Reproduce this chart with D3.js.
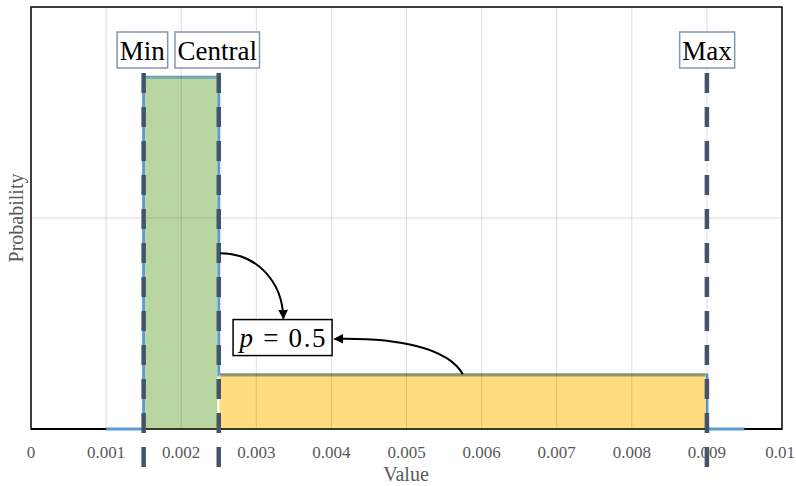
<!DOCTYPE html>
<html><head><meta charset="utf-8">
<script src="https://cdn.jsdelivr.net/npm/d3@7"></script>
<style>body{margin:0;background:#fff}svg{display:block}</style>
</head><body>
<svg id="c" width="796" height="486"></svg>
<script>
// ---- data ----
const xTicks = [0, 0.001, 0.002, 0.003, 0.004, 0.005, 0.006, 0.007, 0.008, 0.009, 0.01];
const xTickLabels = ["0", "0.001", "0.002", "0.003", "0.004", "0.005", "0.006", "0.007", "0.008", "0.009", "0.01"];
const yGrid = [300];
const pdfX = [0.001, 0.0015, 0.0015, 0.0025, 0.0025, 0.009, 0.009, 0.0095];
const pdfY = [0, 0, 500, 500, 76.9, 76.9, 0, 0];
const regionX0 = [0.0015, 0.0025];
const regionX1 = [0.0025, 0.009];
const regionH = [500, 76.9];
const regionColors = ["#b7d6a1", "#fedd80"];
const regionEdges = ["#7fae8a", "#8f8c5a"];
const markerNames = ["Min", "Central", "Max"];
const markerX = [0.0015, 0.0025, 0.009];
const pLabel = "p = 0.5";
const pLabelPos = [0.00335, 130];
const arrow1 = [[0.00252, 250], [0.00300, 250], [0.00335, 210], [0.00336, 157]];
const arrow2 = [[0.00575, 78], [0.00555, 115], [0.0049, 130], [0.00404, 128]];

// ---- layout ----
const svg = d3.select("#c");
const L = 31, R = 782, T = 7, B = 429;
const x = d3.scaleLinear().domain([0, 0.01]).range([L, R]);
const y = d3.scaleLinear().domain([0, 600]).range([B, T]);
const serif = "'Liberation Serif','Times New Roman',serif";

// border
svg.append("rect").attr("x", L).attr("y", T).attr("width", R - L).attr("height", B - T)
  .attr("fill", "none").attr("stroke", "#000").attr("stroke-width", 1.5);

// pdf line
const pts = pdfX.map((v, i) => [x(v), y(pdfY[i])]);
svg.append("path").attr("d", d3.line()(pts)).attr("fill", "none")
  .attr("stroke", "#5b9bd5").attr("stroke-width", 3);

// regions
svg.append("g").selectAll("rect").data(regionX0).join("rect")
  .attr("x", (d, i) => x(d) + (i === 0 ? 1.5 : 0.5))
  .attr("width", (d, i) => x(regionX1[i]) - x(d) - (i === 0 ? 3 : 1.5))
  .attr("y", (d, i) => y(regionH[i]) + (i === 0 ? 1.5 : 0))
  .attr("height", (d, i) => y(0) - y(regionH[i]) - (i === 0 ? 1.5 : 0))
  .attr("fill", (d, i) => regionColors[i]);
svg.append("g").selectAll("line").data(regionX0).join("line")
  .attr("x1", (d, i) => x(d) + 1.5).attr("x2", (d, i) => x(regionX1[i]) - 1.5)
  .attr("y1", (d, i) => y(regionH[i]) + (i === 0 ? 0.5 : 0)).attr("y2", (d, i) => y(regionH[i]) + (i === 0 ? 0.5 : 0))
  .attr("stroke", (d, i) => regionEdges[i]).attr("stroke-width", (d, i) => i === 0 ? 2 : 3).attr("stroke-opacity", 0.85);

// gridlines (over fills, translucent)
svg.append("g").selectAll("line").data(xTicks.filter(v => v > 0 && v < 0.01)).join("line")
  .attr("x1", d => x(d)).attr("x2", d => x(d)).attr("y1", T + 1).attr("y2", B - 1)
  .attr("stroke", "#000").attr("stroke-opacity", 0.13).attr("stroke-width", 1);
svg.append("g").selectAll("line").data(yGrid).join("line")
  .attr("x1", L + 1).attr("x2", R - 1).attr("y1", d => y(d)).attr("y2", d => y(d))
  .attr("stroke", "#000").attr("stroke-opacity", 0.13).attr("stroke-width", 1);

// axis line
svg.append("line").attr("x1", L).attr("x2", x(0.001)).attr("y1", B).attr("y2", B)
  .attr("stroke", "#000").attr("stroke-width", 2);
svg.append("line").attr("x1", x(0.0095)).attr("x2", R).attr("y1", B).attr("y2", B)
  .attr("stroke", "#000").attr("stroke-width", 2);
svg.append("line").attr("x1", x(0.0015)).attr("x2", x(0.009)).attr("y1", B).attr("y2", B)
  .attr("stroke", "#3a3a20").attr("stroke-width", 2);

// dashed marker lines
svg.append("g").selectAll("line").data(markerX).join("line")
  .attr("x1", d => x(d)).attr("x2", d => x(d)).attr("y1", 73).attr("y2", 470)
  .attr("stroke", "#44546a").attr("stroke-width", 4.5)
  .attr("stroke-dasharray", "20,14");

// marker labels
const mg = svg.append("g").selectAll("g").data(markerNames).join("g")
  .attr("transform", (d, i) => `translate(${x(markerX[i]) - (i < 2 ? 1.5 : 0)},50)`);
mg.append("text").text(d => d).attr("text-anchor", "middle").attr("y", 9.5)
  .attr("font-family", serif).attr("font-size", 27).attr("fill", "#000");
mg.each(function () {
  const g = d3.select(this);
  const bb = g.select("text").node().getBBox();
  g.insert("rect", "text").attr("x", bb.x - 2.5).attr("y", -18).attr("width", bb.width + 5).attr("height", 36)
    .attr("fill", "#fff").attr("stroke", "#8497b0").attr("stroke-width", 1.5);
});

// arrows
const defs = svg.append("defs");
defs.append("marker").attr("id", "ah").attr("viewBox", "0 0 10 10").attr("refX", 9).attr("refY", 5)
  .attr("markerWidth", 5).attr("markerHeight", 5).attr("markerUnits", "strokeWidth").attr("orient", "auto")
  .append("path").attr("d", "M0,0 L10,5 L0,10 Z").attr("fill", "#000");
[arrow1, arrow2].forEach(a => {
  const p = a.map(q => [x(q[0]), y(q[1])]);
  svg.append("path")
    .attr("d", `M${p[0]}C${p[1]} ${p[2]} ${p[3]}`)
    .attr("fill", "none").attr("stroke", "#000").attr("stroke-width", 2)
    .attr("marker-end", "url(#ah)");
});

// p label
const pg = svg.append("g").attr("transform", `translate(${x(pLabelPos[0])},${y(pLabelPos[1])})`);
pg.append("rect").attr("x", -49.5).attr("y", -18).attr("width", 99).attr("height", 36)
  .attr("fill", "#fff").attr("stroke", "#000").attr("stroke-width", 1.5);
const pt = pg.append("text").attr("text-anchor", "middle").attr("y", 9)
  .attr("font-family", serif).attr("font-size", 27).attr("fill", "#000")
  .attr("textLength", 86).attr("lengthAdjust", "spacing");
pt.append("tspan").attr("font-style", "italic").text(pLabel.split(" ")[0]);
pt.append("tspan").text(" " + pLabel.split(" ").slice(1).join(" "));

// tick labels
svg.append("g").selectAll("text").data(xTicks).join("text")
  .attr("x", d => Math.min(x(d), 794 - 14)).attr("y", 458).attr("text-anchor", "middle")
  .attr("font-family", serif).attr("font-size", 17).attr("fill", "#595959")
  .text((d, i) => xTickLabels[i]);

// axis titles
svg.append("text").attr("x", 406).attr("y", 481).attr("text-anchor", "middle")
  .attr("font-family", serif).attr("font-size", 20).attr("fill", "#595959").text("Value");
svg.append("text").attr("transform", "translate(23,218) rotate(-90)").attr("text-anchor", "middle")
  .attr("font-family", serif).attr("font-size", 20).attr("fill", "#595959").text("Probability");
</script>
</body></html>
